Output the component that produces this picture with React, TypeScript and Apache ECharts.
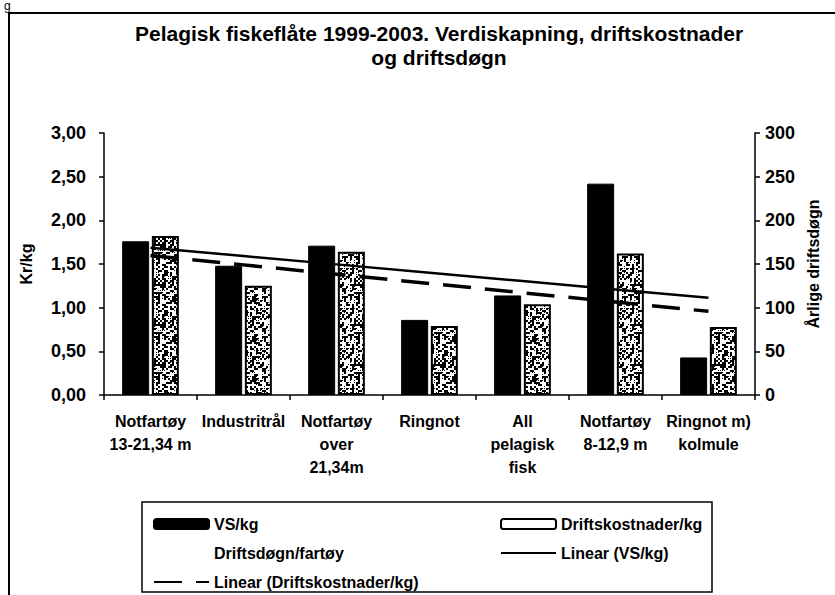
import React, { useEffect, useRef } from 'react';
import * as echarts from 'echarts';

// ---------- data ----------
const categories = [
  'Notfartøy\n13-21,34 m',
  'Industritrål',
  'Notfartøy\nover\n21,34m',
  'Ringnot',
  'All\npelagisk\nfisk',
  'Notfartøy\n8-12,9 m',
  'Ringnot m)\nkolmule',
];
const vsPerKg = [1.76, 1.48, 1.71, 0.86, 1.14, 2.42, 0.43];
const driftskostnaderPerKg = [1.82, 1.25, 1.64, 0.79, 1.04, 1.62, 0.78];
// The series is listed in the legend but not visible in the chart
const driftsdognPerFartoy: (number | null)[] = [];

const leftAxisTicks = [0, 0.5, 1, 1.5, 2, 2.5, 3];
const rightAxisTicks = [0, 50, 100, 150, 200, 250, 300];

const titleText = 'Pelagisk fiskeflåte 1999-2003. Verdiskapning, driftskostnader\nog driftsdøgn';

// Excel-style linear trendline of a series (least squares over x = 1..n)
function linearTrend(values: number[]): number[] {
  const n = values.length;
  const xs = values.map((_, i) => i + 1);
  const mx = xs.reduce((a, b) => a + b, 0) / n;
  const my = values.reduce((a, b) => a + b, 0) / n;
  let sxy = 0;
  let sxx = 0;
  for (let i = 0; i < n; i++) {
    sxy += (xs[i] - mx) * (values[i] - my);
    sxx += (xs[i] - mx) * (xs[i] - mx);
  }
  const slope = sxy / sxx;
  return xs.map((x) => +(my + slope * (x - mx)).toFixed(4));
}

// deterministic speckle texture for the "Driftskostnader/kg" bars
function makeSpeckle(): HTMLCanvasElement {
  const size = 40;
  const cell = 2;
  const c = document.createElement('canvas');
  c.width = size;
  c.height = size;
  const ctx = c.getContext('2d')!;
  ctx.fillStyle = '#ffffff';
  ctx.fillRect(0, 0, size, size);
  ctx.fillStyle = '#000000';
  let s = 20240611;
  for (let y = 0; y < size; y += cell) {
    for (let x = 0; x < size; x += cell) {
      s = (s * 1103515245 + 12345) & 0x7fffffff;
      const r = (s >> 16) % 100;
      if (r < 42) ctx.fillRect(x, y, cell, cell);
      else if (r < 55) ctx.fillRect(x, y, 1, 1);
    }
  }
  return c;
}

const FONT = '"Liberation Sans", Arial, sans-serif';

export default function App() {
  const ref = useRef<HTMLDivElement>(null);

  useEffect(() => {
    if (!ref.current) return;
    const chart = echarts.init(ref.current, undefined, { renderer: 'svg' });
    const speckle = makeSpeckle();
    const textBase = { fontFamily: FONT, fontWeight: 'bold' as const, color: '#000' };

    chart.setOption({
      animation: false,
      backgroundColor: '#ffffff',
      title: {
        text: titleText,
        left: 434,
        top: 16,
        textAlign: 'center',
        textStyle: { ...textBase, fontSize: 21, lineHeight: 24 },
      },
      graphic: [
        {
          type: 'rect',
          shape: { x: 9, y: 13, width: 900, height: 700 },
          style: { fill: 'none', stroke: '#000', lineWidth: 2 },
          silent: true,
        },
        {
          type: 'rect',
          shape: { x: 142, y: 502, width: 570, height: 90 },
          style: { fill: 'none', stroke: '#000', lineWidth: 1.5 },
          silent: true,
        },
        {
          type: 'text',
          x: 4,
          y: 0,
          style: { text: 'g', fontSize: 12, fontFamily: FONT, fill: '#000', verticalAlign: 'top' },
          silent: true,
        },
      ],
      legend: [
        {
          left: 148,
          top: 511,
          orient: 'vertical',
          itemWidth: 55,
          itemHeight: 10,
          itemGap: 13,
          textStyle: { ...textBase, fontSize: 16 },
          data: [
            { name: 'VS/kg' },
            { name: 'Driftsdøgn/fartøy', icon: 'none' },
            { name: 'Linear (Driftskostnader/kg)' },
          ],
        },
        {
          left: 495,
          top: 511,
          orient: 'vertical',
          itemWidth: 55,
          itemHeight: 10,
          itemGap: 13,
          textStyle: { ...textBase, fontSize: 16 },
          data: [
            {
              name: 'Driftskostnader/kg',
              itemStyle: { color: '#ffffff', borderColor: '#000', borderWidth: 2 },
            },
            { name: 'Linear (VS/kg)' },
          ],
        },
      ],
      grid: { left: 104, right: 80, top: 133, bottom: 200, containLabel: false },
      xAxis: {
        type: 'category',
        data: categories,
        boundaryGap: true,
        axisLine: { lineStyle: { color: '#000', width: 1.5 } },
        axisTick: { show: true, length: 5, lineStyle: { color: '#000', width: 1.5 } },
        axisLabel: {
          ...textBase,
          interval: 0,
          fontSize: 16,
          lineHeight: 23,
          margin: 15,
        },
        splitLine: { show: false },
      },
      yAxis: [
        {
          type: 'value',
          min: leftAxisTicks[0],
          max: leftAxisTicks[leftAxisTicks.length - 1],
          interval: leftAxisTicks[1] - leftAxisTicks[0],
          name: 'Kr/kg',
          nameLocation: 'middle',
          nameGap: 70,
          nameTextStyle: { ...textBase, fontSize: 16 },
          axisLine: { show: true, lineStyle: { color: '#000', width: 1.5 } },
          axisTick: { show: true, length: 5, lineStyle: { color: '#000', width: 1.5 } },
          axisLabel: {
            ...textBase,
            fontSize: 18,
            margin: 18,
            formatter: (v: number) => v.toFixed(2).replace('.', ','),
          },
          splitLine: { show: false },
        },
        {
          type: 'value',
          position: 'right',
          min: rightAxisTicks[0],
          max: rightAxisTicks[rightAxisTicks.length - 1],
          interval: rightAxisTicks[1] - rightAxisTicks[0],
          name: 'Årlige driftsdøgn',
          nameLocation: 'middle',
          nameGap: 50,
          nameTextStyle: { ...textBase, fontSize: 16 },
          axisLine: { show: true, lineStyle: { color: '#000', width: 1.5 } },
          axisTick: { show: true, length: 5, lineStyle: { color: '#000', width: 1.5 } },
          axisLabel: { ...textBase, fontSize: 18, margin: 10 },
          splitLine: { show: false },
        },
      ],
      series: [
        {
          name: 'VS/kg',
          type: 'bar',
          yAxisIndex: 0,
          data: vsPerKg,
          barWidth: 27,
          barGap: '10%',
          itemStyle: { color: '#000', borderColor: '#000', borderWidth: 1 },
        },
        {
          name: 'Driftskostnader/kg',
          type: 'bar',
          yAxisIndex: 0,
          data: driftskostnaderPerKg,
          barWidth: 27,
          barGap: '10%',
          itemStyle: {
            color: { image: speckle, repeat: 'repeat' },
            borderColor: '#000',
            borderWidth: 2,
          },
        },
        {
          name: 'Driftsdøgn/fartøy',
          type: 'line',
          yAxisIndex: 1,
          data: driftsdognPerFartoy,
          symbol: 'none',
          lineStyle: { color: '#000', width: 0, opacity: 0 },
          itemStyle: { color: '#000', opacity: 0 },
        },
        {
          name: 'Linear (VS/kg)',
          type: 'line',
          yAxisIndex: 0,
          data: linearTrend(vsPerKg),
          symbol: 'none',
          z: 5,
          lineStyle: { color: '#000', width: 2.5, type: 'solid' },
          itemStyle: { color: '#000', opacity: 0 },
        },
        {
          name: 'Linear (Driftskostnader/kg)',
          type: 'line',
          yAxisIndex: 0,
          data: linearTrend(driftskostnaderPerKg),
          symbol: 'none',
          z: 5,
          lineStyle: { color: '#000', width: 3.5, type: [28, 14] },
          itemStyle: { color: '#000', opacity: 0 },
        },
      ],
    });

    return () => chart.dispose();
  }, []);

  return <div ref={ref} style={{ width: 835, height: 595, position: 'absolute', left: 0, top: 0 }} />;
}
